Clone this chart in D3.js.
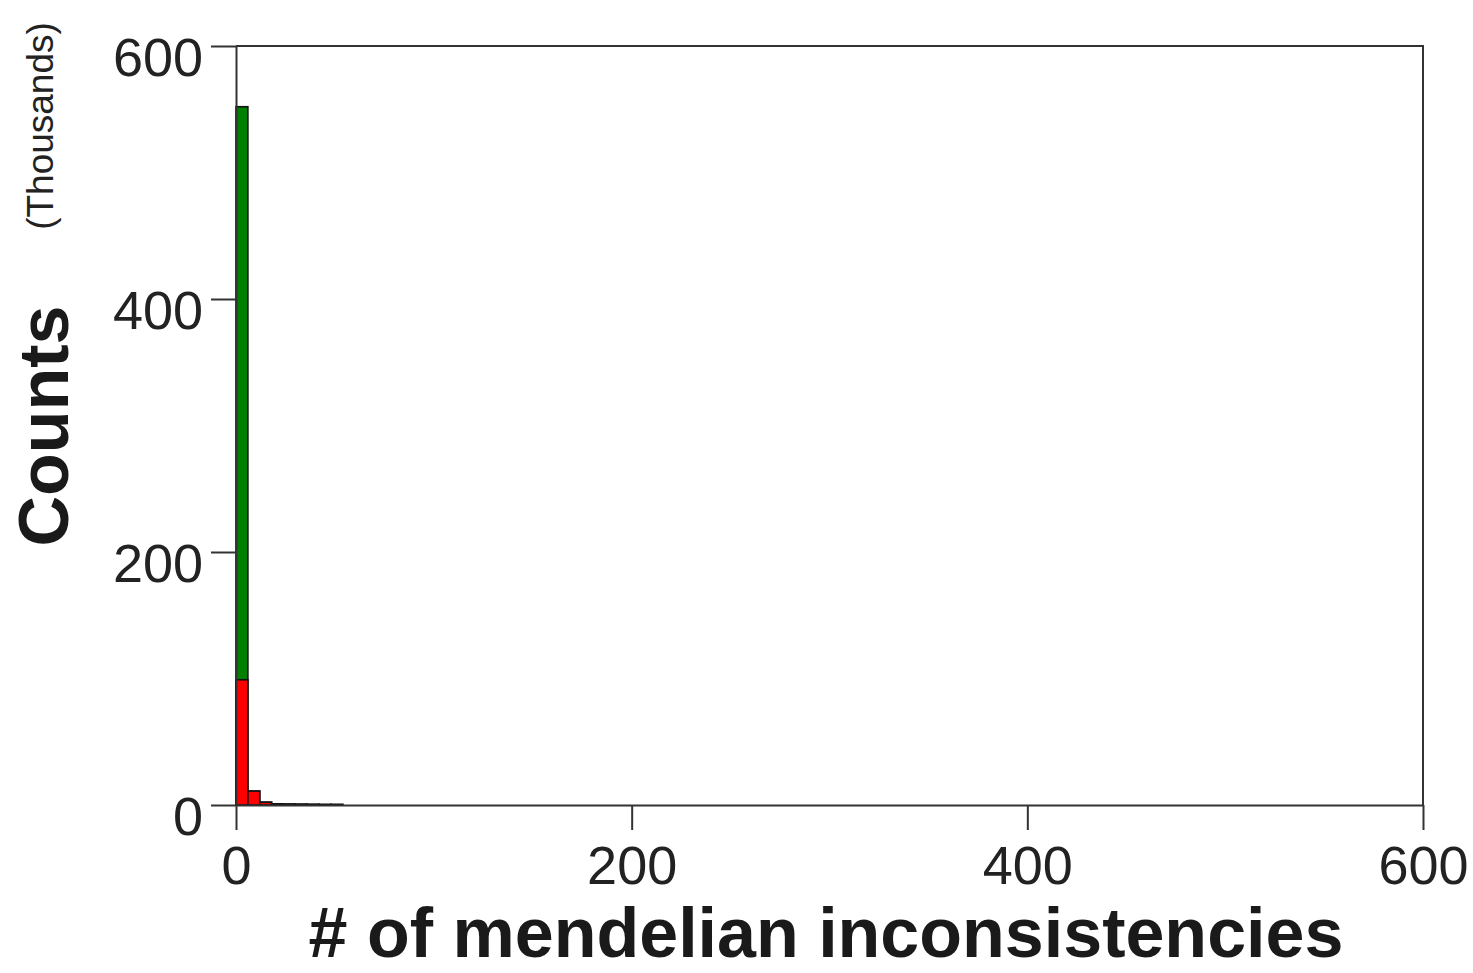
<!DOCTYPE html>
<html>
<head>
<meta charset="utf-8">
<script src="https://cdn.jsdelivr.net/npm/d3@7"></script>
<style>
  html, body { margin: 0; padding: 0; background: #fff; }
  svg { display: block; font-family: "Liberation Sans", Arial, sans-serif; }
</style>
</head>
<body>
<svg id="chart" width="1473" height="973"></svg>
<script>
// Histogram of mendelian inconsistencies per site, bin width 6
const binStarts = [0, 6, 12, 18, 24, 30, 36, 42, 48];
const binWidth = 6;
// counts in thousands: all sites, and the flagged subset
const totalCounts = [552, 11, 2.2, 0.9, 0.7, 0.6, 0.5, 0.4, 0.4];
const flaggedCounts = [99, 11, 2.2, 0.9, 0.7, 0.6, 0.5, 0.4, 0.4];
const xTicks = [0, 200, 400, 600];
const yTicks = [0, 200, 400, 600];

const svg = d3.select("#chart");
const margin = { left: 236, right: 50, top: 46, bottom: 168 };
const W = 1473, H = 973;

const x = d3.scaleLinear().domain([0, 600]).range([margin.left, W - margin.right]);
const y = d3.scaleLinear().domain([0, 600]).range([H - margin.bottom, margin.top]);

const axisColor = "#333";
const tickFont = 54;

// bars: totals in green, flagged subset in red drawn on top
const bars = svg.append("g");
bars.selectAll("rect.total")
  .data(binStarts.map((s, i) => ({ s, v: totalCounts[i] })))
  .join("rect")
  .attr("class", "total")
  .attr("x", d => x(d.s))
  .attr("width", d => x(d.s + binWidth) - x(d.s))
  .attr("y", d => y(d.v))
  .attr("height", d => y(0) - y(d.v))
  .attr("fill", "#007f00")
  .attr("stroke", "#111")
  .attr("stroke-width", 1.6);

bars.selectAll("rect.flagged")
  .data(binStarts.map((s, i) => ({ s, v: flaggedCounts[i] })))
  .join("rect")
  .attr("class", "flagged")
  .attr("x", d => x(d.s))
  .attr("width", d => x(d.s + binWidth) - x(d.s))
  .attr("y", d => y(d.v))
  .attr("height", d => y(0) - y(d.v))
  .attr("fill", "#ff0000")
  .attr("stroke", "#111")
  .attr("stroke-width", 1.6);

// frame (top and right)
svg.append("path")
  .attr("d", `M${x(0)},${y(600)}H${x(600)}V${y(0)}`)
  .attr("fill", "none")
  .attr("stroke", axisColor)
  .attr("stroke-width", 2);

// y axis
const yAxis = d3.axisLeft(y).tickValues(yTicks).tickSize(25).tickSizeOuter(0).tickPadding(8);
const gy = svg.append("g").attr("transform", `translate(${x(0)},0)`).call(yAxis);
gy.select(".domain").attr("stroke", axisColor).attr("stroke-width", 2);
gy.selectAll(".tick line").attr("stroke", axisColor).attr("stroke-width", 2);
gy.selectAll(".tick text")
  .attr("font-size", tickFont)
  .attr("fill", "#222")
  .attr("dy", "0.54em")
  .attr("font-family", "'Liberation Sans', Arial, sans-serif");

// x axis
const xAxis = d3.axisBottom(x).tickValues(xTicks).tickSize(25).tickSizeOuter(0).tickPadding(16);
const gx = svg.append("g").attr("transform", `translate(0,${y(0)})`).call(xAxis);
gx.select(".domain").attr("stroke", axisColor).attr("stroke-width", 2);
gx.selectAll(".tick line").attr("stroke", axisColor).attr("stroke-width", 2);
gx.selectAll(".tick text")
  .attr("font-size", tickFont)
  .attr("fill", "#222")
  .attr("font-family", "'Liberation Sans', Arial, sans-serif");

// titles
svg.append("text")
  .attr("transform", `translate(68,${426}) rotate(-90)`)
  .attr("text-anchor", "middle")
  .attr("font-size", 70)
  .attr("font-weight", "bold")
  .attr("fill", "#1a1a1a")
  .text("Counts");

svg.append("text")
  .attr("transform", `translate(53,${126}) rotate(-90)`)
  .attr("text-anchor", "middle")
  .attr("font-size", 37)
  .attr("fill", "#222")
  .text("(Thousands)");

svg.append("text")
  .attr("x", 826)
  .attr("y", 957)
  .attr("text-anchor", "middle")
  .attr("font-size", 70)
  .attr("font-weight", "bold")
  .attr("fill", "#1a1a1a")
  .text("# of mendelian inconsistencies");
</script>
</body>
</html>
